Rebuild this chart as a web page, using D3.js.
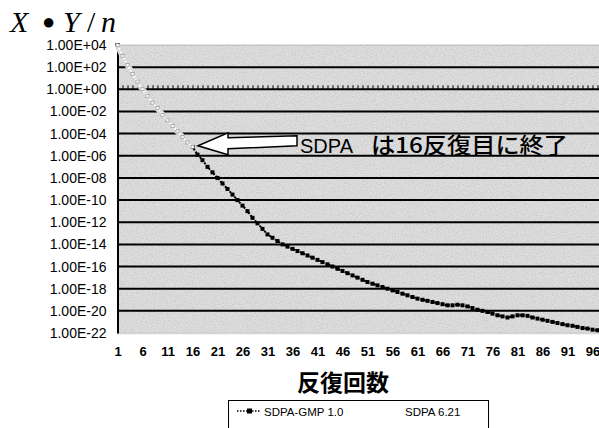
<!DOCTYPE html>
<html>
<head>
<meta charset="utf-8">
<script src="https://cdn.jsdelivr.net/npm/d3@7"></script>
<style>
html,body{margin:0;padding:0;background:#fff;}
svg{display:block;}
</style>
</head>
<body>
<svg id="chart" width="599" height="428"></svg>
<script>
// ---- data ----
const iterations = d3.range(1, 98); // 1..97
// log10 of X•Y/n for SDPA-GMP 1.0 (iterations 1..97)
const gmpLog = [4.0,3.0,2.2,1.4,0.7,0.0,-0.6,-1.2,-1.7,-2.3,-2.8,-3.3,-3.8,-4.3,-4.8,-5.2,
  -5.9,-6.4,-7.0,-7.5,-8.0,-8.5,-9.0,-9.5,-10.0,-10.5,-11.0,-11.6,-12.1,-12.6,-13.1,-13.4,
  -13.7,-14.0,-14.2,-14.4,-14.6,-14.8,-15.0,-15.2,-15.4,-15.6,-15.8,-16.0,-16.2,-16.4,-16.6,
  -16.8,-17.0,-17.2,-17.4,-17.55,-17.7,-17.85,-18.0,-18.15,-18.3,-18.45,-18.6,-18.75,-18.9,
  -19.0,-19.1,-19.2,-19.3,-19.4,-19.5,-19.5,-19.45,-19.5,-19.6,-19.75,-19.9,-20.0,-20.1,
  -20.25,-20.4,-20.5,-20.6,-20.5,-20.4,-20.4,-20.45,-20.6,-20.7,-20.8,-20.9,-21.0,-21.1,
  -21.2,-21.3,-21.35,-21.45,-21.55,-21.6,-21.7,-21.75];
// log10 of X•Y/n for SDPA 6.21 (iterations 1..16)
const sdpaLog = [4.0,3.0,2.2,1.4,0.7,0.0,-0.6,-1.2,-1.7,-2.3,-2.8,-3.3,-3.8,-4.3,-4.8,-5.2];
const yTickValues = [1e4,1e2,1e0,1e-2,1e-4,1e-6,1e-8,1e-10,1e-12,1e-14,1e-16,1e-18,1e-20,1e-22];
const yTickLabels = ["1.00E+04","1.00E+02","1.00E+00","1.00E-02","1.00E-04","1.00E-06","1.00E-08",
  "1.00E-10","1.00E-12","1.00E-14","1.00E-16","1.00E-18","1.00E-20","1.00E-22"];
const xTickValues = [1,6,11,16,21,26,31,36,41,46,51,56,61,66,71,76,81,86,91,96];
const seriesNames = ["SDPA-GMP 1.0","SDPA 6.21"];
const annotation = ["SDPA", "は16反復目に終了"];
const xTitle = "反復回数";

const gmp = gmpLog.map((v,i)=>({x:iterations[i], y:Math.pow(10,v)}));
const sdpa = sdpaLog.map((v,i)=>({x:iterations[i], y:Math.pow(10,v)}));

// ---- layout ----
const svg = d3.select("#chart");
const L = 117.5, R = 599, T = 45, B = 333;
const x = d3.scaleLinear().domain([1, 97]).range([L, L + 96*5]);
const y = d3.scaleLog().domain([1e-22, 1e4]).range([B, T]);

// noise texture filter
const defs = svg.append("defs");
const f = defs.append("filter").attr("id","noise").attr("x",0).attr("y",0).attr("width","100%").attr("height","100%");
f.append("feTurbulence").attr("type","fractalNoise").attr("baseFrequency","0.9").attr("numOctaves",2).attr("seed",3).attr("result","n");
f.append("feColorMatrix").attr("type","matrix")
 .attr("values","0 0 0 0 0  0 0 0 0 0  0 0 0 0 0  0 0 0 -2.2 1.3");

// plot background
svg.append("rect").attr("x",L).attr("y",T).attr("width",R-L).attr("height",B-T).attr("fill","#dedede");
svg.append("rect").attr("x",L).attr("y",T).attr("width",R-L).attr("height",B-T)
  .attr("filter","url(#noise)").attr("opacity",0.1);

// gridlines
const gridVals = yTickValues.filter(v => v < 1e4 && v > 1e-22);
svg.append("g").selectAll("line").data(gridVals).join("line")
  .attr("x1",L).attr("x2",R).attr("y1",d=>y(d)).attr("y2",d=>y(d))
  .attr("stroke","#000").attr("stroke-width",2);
// top & bottom borders (light dotted)
svg.append("line").attr("x1",L).attr("x2",R).attr("y1",T).attr("y2",T)
  .attr("stroke","#888").attr("stroke-width",1).attr("stroke-dasharray","1,1");
svg.append("line").attr("x1",L).attr("x2",R).attr("y1",B+0.5).attr("y2",B+0.5)
  .attr("stroke","#aaa").attr("stroke-width",1.5).attr("stroke-dasharray","1,1");

// category axis crossing at 1E+00 with ticks
const catAxis = d3.axisTop(x).tickValues(iterations).tickSize(4).tickFormat("");
const cg = svg.append("g").attr("transform",`translate(0,${y(1)})`).call(catAxis);
cg.select(".domain").remove();
cg.selectAll(".tick line").attr("stroke","#000").attr("stroke-width",1);

// left axis
const yAxis = d3.axisLeft(y).tickValues(yTickValues).tickSize(0)
  .tickFormat((d,i)=>yTickLabels[i]).tickPadding(11);
const yg = svg.append("g").attr("transform",`translate(${L},0)`).call(yAxis);
yg.select(".domain").attr("stroke","#000").attr("stroke-width",2);
yg.selectAll("text").attr("font-family","'Liberation Sans',Arial,sans-serif")
  .attr("font-size","14px").attr("fill","#000");

// bottom labels
const xAxis = d3.axisBottom(x).tickValues(xTickValues).tickSize(0).tickPadding(14);
const xg = svg.append("g").attr("transform",`translate(0,${B})`).call(xAxis);
xg.select(".domain").remove();
xg.selectAll("text").attr("font-family","'Liberation Sans',Arial,sans-serif")
  .attr("font-size","13px").attr("font-weight","bold").attr("fill","#000");

// series SDPA-GMP
const line = d3.line().x(d=>x(d.x)).y(d=>y(d.y));
svg.append("path").datum(gmp).attr("d",line).attr("fill","none")
  .attr("stroke","#000").attr("stroke-width",2).attr("stroke-dasharray","2,1.5");
svg.append("g").selectAll("rect").data(gmp).join("rect")
  .attr("x",d=>x(d.x)-2).attr("y",d=>y(d.y)-2).attr("width",4).attr("height",4).attr("fill","#000");

// series SDPA 6.21 (white)
svg.append("path").datum(sdpa).attr("d",line).attr("fill","none")
  .attr("stroke","#d8d8d8").attr("stroke-width",6);
svg.append("path").datum(sdpa).attr("d",line).attr("fill","none")
  .attr("stroke","#fff").attr("stroke-width",2).attr("stroke-dasharray","2,1.5");
svg.append("g").selectAll("rect").data(sdpa).join("rect")
  .attr("x",d=>x(d.x)-1.5).attr("y",d=>y(d.y)-1.5).attr("width",3).attr("height",3)
  .attr("fill","#fff").attr("stroke","#777").attr("stroke-width",0.5);

// arrow annotation
const tipX = x(17.1), tipY = y(Math.pow(10,-5.1));
const arrowPts = [[tipX,tipY],[tipX+30,tipY-13],[tipX+30,tipY-8],[tipX+99,tipY-10],
  [tipX+99,tipY+0],[tipX+30,tipY+3],[tipX+30,tipY+9]];
svg.append("path").attr("d","M"+arrowPts.map(p=>p.join(",")).join("L")+"Z")
  .attr("fill","#fff").attr("stroke","#000").attr("stroke-width",1.5);
svg.append("text").attr("x",300).attr("y",153).text(annotation[0])
  .attr("font-family","'Liberation Sans',Arial,sans-serif").attr("font-size","20px").attr("fill","#000");
svg.append("text").attr("x",371).attr("y",153).text(annotation[1])
  .attr("font-family","'Noto Sans CJK JP',sans-serif").attr("font-size","22px").attr("fill","#000")
  .attr("font-weight","500")
  .attr("textLength",197).attr("lengthAdjust","spacingAndGlyphs");

// title X • Y/n
const tfont = "'Liberation Serif','DejaVu Serif',serif";
const tt = svg.append("text").attr("y",32).attr("font-family",tfont).attr("font-size","30px")
  .attr("font-style","italic").attr("fill","#000");
tt.append("tspan").attr("x",10).text("X");
tt.append("tspan").attr("x",42).attr("font-style","normal").attr("font-size","22px").attr("dy",-3).text("●");
tt.append("tspan").attr("x",63).attr("dy",3).text("Y");
tt.append("tspan").attr("x",87).attr("font-style","normal").text("/");
tt.append("tspan").attr("x",101).text("n");

// x title
svg.append("text").attr("x",343).attr("y",391).attr("text-anchor","middle").text(xTitle)
  .attr("font-family","'Noto Sans CJK JP',sans-serif").attr("font-size","23px").attr("font-weight","bold");

// legend
const lg = svg.append("g");
lg.append("rect").attr("x",228.5).attr("y",400.5).attr("width",260).attr("height",40)
  .attr("fill","#fff").attr("stroke","#000").attr("stroke-width",1);
lg.append("line").attr("x1",237).attr("x2",261).attr("y1",411).attr("y2",411)
  .attr("stroke","#000").attr("stroke-width",1.5).attr("stroke-dasharray","1.5,1.5");
lg.append("rect").attr("x",247).attr("y",408.5).attr("width",5).attr("height",5).attr("fill","#000");
lg.append("text").attr("x",264).attr("y",415.5).text(seriesNames[0])
  .attr("font-family","'Liberation Sans',Arial,sans-serif").attr("font-size","11.5px");
lg.append("line").attr("x1",380).attr("x2",402).attr("y1",411).attr("y2",411)
  .attr("stroke","#fff").attr("stroke-width",1.5);
lg.append("text").attr("x",405).attr("y",415.5).text(seriesNames[1])
  .attr("font-family","'Liberation Sans',Arial,sans-serif").attr("font-size","11.5px");
</script>
</body>
</html>
